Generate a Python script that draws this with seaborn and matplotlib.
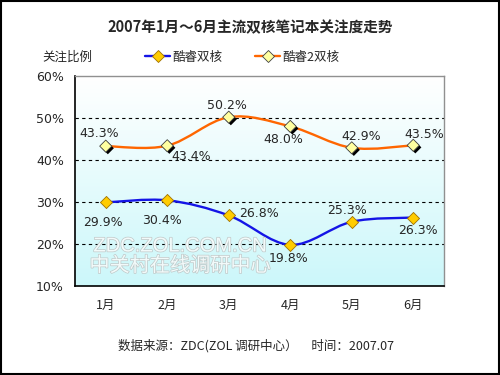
import numpy as np
import matplotlib
matplotlib.use('Agg')
import matplotlib.pyplot as plt
import matplotlib.patheffects as pe
from matplotlib.path import Path
from matplotlib.patches import PathPatch, Rectangle
from matplotlib.lines import Line2D
import pandas as pd
import seaborn as sb

months = ['1月', '2月', '3月', '4月', '5月', '6月']
core_duo = [29.9, 30.4, 26.8, 19.8, 25.3, 26.3]
core2_duo = [43.3, 43.4, 50.2, 48.0, 42.9, 43.5]
series_names = ['酷睿双核', '酷睿2双核']

sb.set_style('white')
plt.rcParams['font.family'] = ['Noto Sans CJK SC', 'DejaVu Sans']

frame = pd.DataFrame({'month': months * 2,
                      'x': list(range(len(months))) * 2,
                      'value': core_duo + core2_duo,
                      'series': [series_names[0]] * 6 + [series_names[1]] * 6})

fig = plt.figure(figsize=(5, 3.75), dpi=100)
ax = fig.add_axes([75 / 500, 1 - 286 / 375, 369 / 500, 210 / 375])

# gradient background of the plot area
grad = np.linspace(0, 1, 256).reshape(-1, 1)
top = np.array([1.0, 1.0, 1.0])
bottom = np.array([0.80, 0.97, 0.98])
img = top + (bottom - top) * grad[..., None]
ax.imshow(img, extent=[0, 1, 0, 1], transform=ax.transAxes, aspect='auto', zorder=0)


def smooth_path(xs, ys):
    # catmull-rom style bezier, like excel's smoothed lines
    pts = np.column_stack([xs, ys]).astype(float)
    ext = np.vstack([pts[0], pts, pts[-1]])
    verts, codes = [tuple(pts[0])], [Path.MOVETO]
    for i in range(len(pts) - 1):
        p0, p1, p2, p3 = ext[i], ext[i + 1], ext[i + 2], ext[i + 3]
        verts += [tuple(p1 + (p2 - p0) / 6), tuple(p2 - (p3 - p1) / 6), tuple(p2)]
        codes += [Path.CURVE4] * 3
    return Path(verts, codes)


xs = np.arange(len(months))
ax.add_patch(PathPatch(smooth_path(xs, core_duo), fill=False, edgecolor='#1414e6', lw=1.7, zorder=3))
ax.add_patch(PathPatch(smooth_path(xs, core2_duo), fill=False, edgecolor='#ff6600', lw=1.7, zorder=3))

sb.scatterplot(data=frame[frame.series == series_names[0]], x='x', y='value', marker='D', s=38,
               color='#ffcc00', edgecolor='#a07000', linewidth=0.6, ax=ax, zorder=4, legend=False)
shadow = [pe.SimplePatchShadow(offset=(1.5, -1.5), shadow_rgbFace='black', alpha=1.0), pe.Normal()]
pts2 = ax.scatter(xs, core2_duo, marker='D', s=38, color='#ffffa0', edgecolor='#404040',
                  linewidth=0.6, zorder=4)
pts2.set_path_effects(shadow)

# data labels
off1 = [(-3, -20), (-5, -20), (30, 2), (-2, -14), (-5, 11), (5, -13)]
off2 = [(-7, 13), (24, -11), (-2, 12), (-7, -13), (9, 11), (11, 11)]
for i in range(len(months)):
    ax.annotate('%.1f%%' % core_duo[i], (xs[i], core_duo[i]), xytext=off1[i],
                textcoords='offset pixels', ha='center', va='center', fontsize=9,
                family='DejaVu Sans', zorder=5)
    ax.annotate('%.1f%%' % core2_duo[i], (xs[i], core2_duo[i]), xytext=off2[i],
                textcoords='offset pixels', ha='center', va='center', fontsize=9,
                family='DejaVu Sans', zorder=5)

ax.set_xlim(-0.5, len(months) - 0.5)
ax.set_ylim(10, 60)
ax.set_yticks([10, 20, 30, 40, 50, 60])
ax.set_yticklabels(['%d%%' % v for v in [10, 20, 30, 40, 50, 60]], family='DejaVu Sans')
ax.set_xticks(xs)
ax.set_xticklabels(months)
ax.set_xticks(np.arange(len(months) - 1) + 0.5, minor=True)
ax.tick_params(axis='x', which='major', length=0, pad=9, labelsize=9)
ax.tick_params(axis='x', which='minor', length=3, direction='in', color='black')
ax.tick_params(axis='y', length=0, pad=8, labelsize=9)
ax.set_xlabel('')
ax.set_ylabel('')
for v in [20, 30, 40, 50]:
    ax.axhline(v, color='black', lw=0.8, ls=(0, (3, 3)), zorder=1)
for side in ['left', 'bottom']:
    ax.spines[side].set_color('black')
    ax.spines[side].set_linewidth(1.2)
for side in ['top', 'right']:
    ax.spines[side].set_color('#909090')
    ax.spines[side].set_linewidth(1)

# watermark
stroke = [pe.withStroke(linewidth=1.0, foreground='#c0c8c8')]
fig.text(180 / 500, 1 - 246 / 375, 'ZDC.ZOL.COM.CN', ha='center', va='center', fontsize=14.5,
         color='#f2fafa', family='Liberation Sans', path_effects=stroke, zorder=2)
fig.text(180 / 500, 1 - 266 / 375, '中关村在线调研中心', ha='center', va='center', fontsize=14.5,
         color='#f2fafa', path_effects=stroke, zorder=2)

# title, axis caption, legend, source
fig.text(0.5, 1 - 27 / 375, '2007年1月～6月主流双核笔记本关注度走势', ha='center', va='center',
         fontsize=10.5, fontweight='bold')
fig.text(42 / 500, 1 - 57 / 375, '关注比例', ha='left', va='center', fontsize=9)
handles = [Line2D([], [], color='#1414e6', lw=1.7, marker='D', markersize=6,
                  markerfacecolor='#ffcc00', markeredgecolor='#a07000', markeredgewidth=0.6),
           Line2D([], [], color='#ff6600', lw=1.7, marker='D', markersize=6,
                  markerfacecolor='#ffffa0', markeredgecolor='#404040', markeredgewidth=0.6)]
fig.legend(handles, series_names, loc='center left', bbox_to_anchor=(140 / 500, 1 - 57 / 375),
           ncol=2, frameon=False, fontsize=9, handlelength=2.0, handletextpad=0.2,
           columnspacing=2.6, borderaxespad=0)
fig.text(256 / 500, 1 - 346 / 375, '数据来源：ZDC(ZOL 调研中心）     时间：2007.07', ha='center',
         va='center', fontsize=9)

fig.patches.append(Rectangle((0.002, 0.003), 0.995, 0.994, transform=fig.transFigure,
                             fill=False, edgecolor='black', lw=1.5))

plt.savefig('out.png', dpi=100)
